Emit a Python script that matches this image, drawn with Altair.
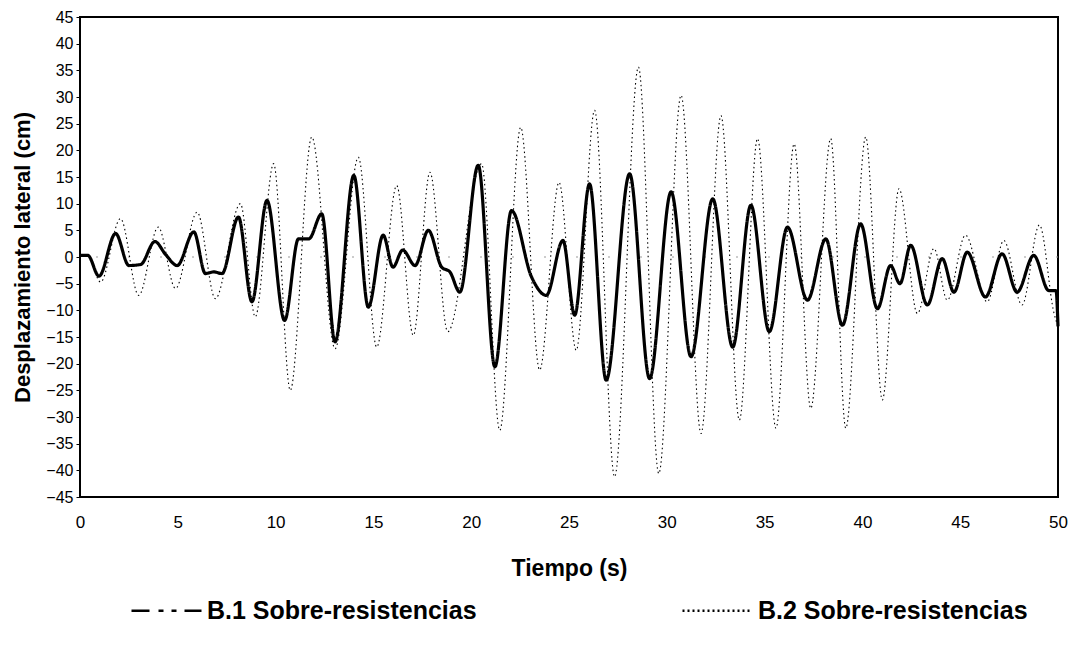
import altair as alt
import pandas as pd

# ---- data ----
series_names = ["B.1 Sobre-resistencias", "B.2 Sobre-resistencias"]

t_b1 = [0, 0.4, 0.97, 1.82, 2.5, 3.1, 3.83, 4.37, 4.97, 5.82, 6.41, 6.84, 7.26,
        8.1, 8.79, 9.56, 10.46, 11.17, 11.7, 12.36, 13.04, 14.0, 14.74, 15.5,
        16.0, 16.5, 17.13, 17.81, 18.49, 18.91, 19.42, 20.36, 21.21, 22.06,
        23.08, 23.84, 24.69, 25.29, 26.05, 26.9, 28.1, 29.12, 30.22, 31.24,
        32.35, 33.37, 34.3, 35.24, 36.17, 37.19, 38.13, 38.98, 39.91, 40.77,
        41.44, 41.92, 42.47, 43.32, 44.08, 44.68, 45.36, 46.29, 47.14, 47.91,
        48.76, 49.53, 49.9, 50]
v_b1 = [0.3, 0.3, -3.6, 4.4, -1.6, -1.4, 2.9, 0.5, -1.6, 4.7, -3.1, -2.8, -3.1,
        7.5, -8.4, 10.6, -11.9, 3.4, 3.4, 8.1, -15.9, 15.3, -9.4, 4.1,
        -1.9, 1.3, -1.6, 5.0, -1.9, -2.8, -6.6, 17.2, -20.6, 8.7,
        -3.7, -7.2, 3.1, -10.9, 13.7, -23.1, 15.6, -22.8, 12.2, -18.7,
        10.9, -16.9, 9.7, -14.0, 5.6, -8.1, 3.4, -12.8, 6.2, -9.7,
        -1.6, -5.0, 2.2, -9.0, -0.3, -6.6, 0.9, -7.5, 0.6, -6.6,
        0.3, -6.3, -6.3, -13.0]

t_b2 = [0, 0.4, 1.05, 2.07, 3.0, 4.0, 4.88, 5.99, 6.92, 8.2, 8.96, 9.9, 10.75,
        11.85, 13.04, 14.23, 15.17, 16.19, 17.04, 17.89, 18.8, 20.53, 21.46,
        22.53, 23.5, 24.49, 25.37, 26.31, 27.33, 28.55, 29.59, 30.73, 31.75,
        32.77, 33.71, 34.64, 35.58, 36.51, 37.36, 38.38, 39.15, 40.17, 41.02,
        41.87, 42.81, 43.66, 44.34, 45.27, 46.38, 47.23, 48.16, 49.05, 49.8, 50]
v_b2 = [0.3, 0.3, -4.7, 7.2, -7.2, 5.6, -5.9, 8.4, -7.8, 10.0, -11.2, 17.5, -25.0,
        22.5, -17.2, 18.7, -16.9, 13.4, -14.7, 15.9, -14.0, 17.5, -32.5,
        24.3, -21.2, 14.0, -17.5, 27.5, -41.2, 35.6, -40.6, 30.3, -33.1,
        26.5, -30.6, 22.2, -32.1, 21.2, -28.4, 22.2, -32.1, 22.5, -26.8,
        12.8, -10.6, 1.6, -8.1, 4.1, -8.4, 3.1, -9.0, 6.0, -10.6, -13.0]

x_ticks = list(range(0, 55, 5))
y_ticks = list(range(-45, 50, 5))
zero_line = [0]

df = pd.concat([
    pd.DataFrame({"t": t_b1, "v": v_b1, "series": series_names[0]}),
    pd.DataFrame({"t": t_b2, "v": v_b2, "series": series_names[1]}),
])

FONT = "Liberation Sans"
W, H = 978, 480

x_enc = alt.X(
    "t:Q",
    scale=alt.Scale(domain=[0, 50], nice=False),
    axis=alt.Axis(
        values=x_ticks, title="Tiempo (s)", grid=False, ticks=False, domain=False,
        labelPadding=17, labelFontSize=17, labelColor="black", labelOverlap=False,
        labelFlush=False, labelBound=False,
        titleFontSize=23, titleFontWeight="bold", titleColor="black",
        titleX=W / 2, titleY=71, titleBaseline="middle",
    ),
)
y_enc = alt.Y(
    "v:Q",
    scale=alt.Scale(domain=[-45, 45], nice=False, zero=False),
    axis=alt.Axis(
        values=y_ticks, title="Desplazamiento lateral (cm)", grid=False,
        tickSize=4, tickColor="black", labelPadding=3, domain=False,
        labelFontSize=16, labelColor="black", labelOverlap=False, labelBound=False,
        labelFlush=False,
        titleFontSize=22, titleFontWeight="bold", titleColor="black",
        titleX=-58, titleY=H / 2, titleAngle=-90, titleAlign="center",
        titleBaseline="middle",
    ),
)

zero_rule = alt.Chart(pd.DataFrame({"v": zero_line})).mark_rule(
    color="#999999", strokeWidth=1, strokeDash=[2, 30]
).encode(y=y_enc)

legend_layer = alt.Chart(df).mark_line(opacity=0, color="black").encode(
    x=x_enc, y=y_enc, detail="series:N",
    strokeDash=alt.StrokeDash(
        "series:N",
        scale=alt.Scale(domain=series_names,
                        range=[[18, 9, 5, 8, 5, 8, 22, 10], [2, 3]]),
        legend=alt.Legend(
            title=None, orient="none", legendX=50, legendY=557,
            direction="horizontal", symbolType="stroke", symbolSize=4900,
            symbolStrokeWidth=2.5, symbolStrokeColor="black", symbolOpacity=1,
            labelFontSize=25, labelFontWeight="bold", labelColor="black",
            labelFont=FONT, labelOffset=4, columnPadding=200, labelLimit=400,
        ),
    ),
)

lines = alt.Chart(df).mark_line(interpolate="monotone", color="black").encode(
    x=x_enc, y=y_enc, detail="series:N",
    strokeWidth=alt.StrokeWidth(
        "series:N", scale=alt.Scale(domain=series_names, range=[3.2, 1.1]), legend=None
    ),
    strokeDash=alt.StrokeDash(
        "series:N", scale=alt.Scale(domain=series_names, range=[[1, 0], [1.5, 3]]),
        legend=None,
    ),
)

chart = (
    alt.layer(zero_rule, legend_layer, lines)
    .resolve_scale(strokeDash="independent")
    .properties(
        width=W, height=H,
        autosize=alt.AutoSizeParams(type="none"),
        padding={"left": 72, "top": 9, "right": 10, "bottom": 146},
        background="white",
    )
    .configure(font=FONT)
    .configure_axis(labelOverlap=False)
    .configure_view(stroke="black", strokeWidth=2)
)

chart.save("out.html", embed_options={"renderer": "svg", "actions": False})
